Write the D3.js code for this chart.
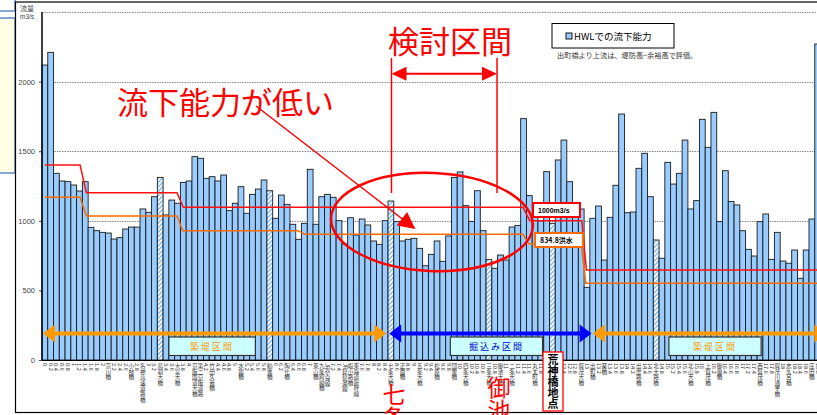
<!DOCTYPE html>
<html><head><meta charset="utf-8">
<script src="https://cdn.jsdelivr.net/npm/d3@7"></script>
<style>
html,body{margin:0;padding:0;background:#fff;overflow:hidden}
svg{display:block}
</style></head><body>
<svg id="c" width="817" height="415"></svg>
<script>
// ---- data ----
const capacity = [
 2119,2210,1341,1286,1281,1257,1214,1281,953,929,
 917,912,869,879,941,955,955,1085,1061,1173,
 1312,1042,1149,1126,1276,1286,1461,1449,1305,1317,
 1286,1329,1073,1126,1245,1054,1190,1228,1293,1216,
 1018,1185,1118,975,867,982,1370,975,1173,1190,
 1169,1001,833,1022,898,1013,970,855,831,1001,
 1142,994,855,867,874,802,677,759,855,709,
 891,1312,1351,1109,996,1216,929,721,659,754,
 718,955,967,1734,1181,1040,1000,1353,982,1437,
 1580,1281,1085,1085,522,1018,1106,718,1025,1255,
 1767,1058,1063,1377,1485,1173,862,731,1420,1264,
 1341,1580,1085,1145,1729,1528,1779,994,1360,1138,
 1114,929,795,747,994,1049,723,917,711,695,
 790,587,790,1013,2270
];
const hatchedBars = [21,40,61,78,89,107];
const sectionLabels = [
 "0","0.2","0.4","0.6","0.8","1","1.2","1.4","1.6","1.8",
 "2","京川橋","2.2","2.4","2.6","小枝橋","2.8","名神高速道路橋","3","3.2",
 "鳥羽大橋","3.4","3.6","大宮大橋","3.8","4","京阪国道大橋","第二京阪道路","4.2","竹田久我橋",
 "4.4","4.6","4.8","5","水鶏橋","5.2","5.4","5.6","5.8","勧進橋",
 "6","6.2","陶化橋","6.4","6.6","6.8","7","東山橋","九条跨線橋","JR奈良線",
 "7.2","7.4","JR琵琶湖線","塩小路橋","東海道新幹線","7.6","7.8","8","8.2","8.4",
 "七条大橋","8.6","正面橋","8.8","9","五条大橋","9.2","9.4","松原橋","9.6",
 "9.8","団栗橋","10","四条大橋","10.2","10.4","10.6","三条大橋","10.8","御池大橋",
 "11","二条大橋","11.2","11.4","11.6","丸太町橋","11.8","12","荒神橋","12.2",
 "12.4","12.6","12.8","賀茂大橋","13","出町橋","13.2","葵橋","13.4","13.6",
 "13.8","14","14.2","出雲路橋","14.4","14.6","北大路橋","14.8","15","15.2",
 "15.4","15.6","北山大橋","15.8","16","上賀茂橋","16.2","御薗橋","16.4","16.6",
 "16.8","17","17.2","17.4","西賀茂橋","17.6","17.8","賀茂川通学橋","18","志久呂橋",
 "18.2","18.4","18.6","庄田橋","18.8"
];
const yTicks = [0,500,1000,1500,2000,2500];
// planned flow step lines: [bar position, m3/s]
const redPlan = [[0.5,1401],[6.6,1401],[7.7,1202],[23.4,1202],[24.5,1097],[83.4,1097],[84.6,1000],[93.6,1000],[94.4,647],[137,647]];
const orangePlan = [[0.5,1169],[6.6,1169],[7.7,1034],[23.4,1034],[24.4,929],[44.4,929],[45.6,903],[83.4,903],[84.4,834.8],[93.5,834.8],[94.3,551],[137,551]];
// sections [from bar pos, to bar pos]
const sections = [
 {from:0.17,to:59.7,color:"#FF9900",label:"築堤区間",lx:[22,37],tc:"#FF9900"},
 {from:60.2,to:95.3,color:"#0000FF",label:"掘込み区間",lx:[70.8,86.8],tc:"#0000CC"},
 {from:95.5,to:136.0,color:"#FF9900",label:"築堤区間",lx:[108.7,124.7],tc:"#FF9900"}
];
const studyRange = [60.6,78.9];

// ---- layout ----
const svg = d3.select("#c");
const step = 5.767, left = 42;
const n = capacity.length;
const ids = capacity.map((d,i)=>i+1);
const x = d3.scaleBand().domain(ids).range([left, left+n*step]).padding(0);
const xp = d3.scaleLinear().domain([0,n]).range([left, left+n*step]);
const y = d3.scaleLinear().domain([0,2500]).range([360,12]);

const defs = svg.append("defs");
const pat = defs.append("pattern").attr("id","hatch").attr("patternUnits","userSpaceOnUse")
  .attr("width",3.2).attr("height",3.2).attr("patternTransform","rotate(45)");
pat.append("rect").attr("width",3.2).attr("height",3.2).attr("fill","#fff");
pat.append("line").attr("x1",0.8).attr("y1",0).attr("x2",0.8).attr("y2",3.2).attr("stroke","#8EC3F5").attr("stroke-width",1.7);
defs.append("marker").attr("id","ah").attr("viewBox","0 0 10 10").attr("refX",9).attr("refY",5)
  .attr("markerUnits","userSpaceOnUse").attr("markerWidth",20).attr("markerHeight",17).attr("orient","auto")
  .append("path").attr("d","M0,0L10,5L0,10Z").attr("fill","#FF0000");

// left side panels (cut off)
svg.append("rect").attr("x",-3).attr("y",-3).attr("width",18).attr("height",14).attr("fill","#fff").attr("stroke","#5B8BC9").attr("stroke-width",1.5);
svg.append("rect").attr("x",-3).attr("y",18).attr("width",18).attr("height",155).attr("fill","#FFFFE3").attr("stroke","#5B8BC9").attr("stroke-width",1.5);

// frame
svg.append("rect").attr("x",15.5).attr("y",2).attr("width",830).attr("height",410.5).attr("fill","none").attr("stroke","#000").attr("stroke-width",1.2);

// gridlines
svg.append("g").selectAll("line").data(yTicks.filter(d=>d>0)).join("line")
  .attr("x1",left).attr("x2",830).attr("y1",d=>Math.round(y(d))+0.5).attr("y2",d=>Math.round(y(d))+0.5)
  .attr("stroke","#8a8a8a").attr("stroke-width",1).attr("stroke-dasharray","1.5,1");

const line = d3.line().x(d=>xp(d[0])).y(d=>y(d[1]));

// bars
svg.append("g").selectAll("rect").data(capacity).join("rect")
  .attr("x",(d,i)=>x(i+1)).attr("width",x.bandwidth())
  .attr("y",d=>y(d)).attr("height",d=>y(0)-y(d))
  .attr("fill",(d,i)=>hatchedBars.includes(i+1)?"url(#hatch)":"#99CCFF")
  .attr("stroke","#1a1a1a").attr("stroke-width",0.9);

svg.append("path").datum(redPlan).attr("d",line).attr("fill","none").attr("stroke","#FF1010").attr("stroke-width",1.5);
svg.append("path").datum(orangePlan).attr("d",line).attr("fill","none").attr("stroke","#FF6A00").attr("stroke-width",1.5);

// axes
const yAxis = d3.axisLeft(y).tickValues(yTicks.filter(d=>d<2500)).tickSize(3).tickFormat(d3.format("d"));
const ga = svg.append("g").attr("transform",`translate(${left},0)`).call(yAxis);
ga.select(".domain").remove();
ga.selectAll(".tick line").attr("stroke","#444");
ga.selectAll(".tick text").attr("x",-7).attr("font-family","Liberation Sans, Arial, sans-serif").attr("font-size",7.5).attr("fill","#444");
svg.append("line").attr("x1",left).attr("x2",left).attr("y1",y(2500)).attr("y2",y(0)).attr("stroke","#000").attr("stroke-width",1.5);
svg.append("line").attr("x1",left).attr("x2",830).attr("y1",y(0)+0.5).attr("y2",y(0)+0.5).attr("stroke","#000").attr("stroke-width",1.2);
svg.append("text").attr("x",20).attr("y",11).attr("font-family","Noto Sans CJK JP").attr("font-size",7).attr("fill","#444").text("流量");
svg.append("text").attr("x",20).attr("y",19).attr("font-family","Liberation Sans, Arial").attr("font-size",6.5).attr("fill","#444").text("m3/s");

// x labels (vertical)
svg.append("g").selectAll("text").data(sectionLabels).join("text")
  .attr("x",(d,i)=>x(i+1)+x.bandwidth()/2).attr("y",363)
  .attr("font-family","Noto Sans CJK JP").attr("font-size",5.6).attr("fill","#333")
  .style("writing-mode","vertical-rl").style("text-orientation","mixed")
  .text(d=>d);

// section arrows
const AY = 333.5;
sections.forEach(s=>{
  const x1 = xp(s.from), x2 = xp(s.to);
  svg.append("line").attr("x1",x1+8).attr("x2",x2-8).attr("y1",AY).attr("y2",AY).attr("stroke",s.color).attr("stroke-width",4);
  svg.append("path").attr("d",`M${x1},${AY}L${x1+12},${AY-9}L${x1+12},${AY+9}Z`).attr("fill",s.color);
  svg.append("path").attr("d",`M${x2},${AY}L${x2-12},${AY-9}L${x2-12},${AY+9}Z`).attr("fill",s.color);
  const bx1 = xp(s.lx[0]), bx2 = xp(s.lx[1]);
  svg.append("rect").attr("x",bx1).attr("y",337).attr("width",bx2-bx1).attr("height",18.5).attr("fill","#CCFFFF").attr("stroke","#333").attr("stroke-width",1.2);
  svg.append("text").attr("x",(bx1+bx2)/2).attr("y",350).attr("text-anchor","middle").attr("font-family","Noto Sans CJK JP")
    .attr("font-size",9).attr("letter-spacing",2).attr("fill",s.tc).text(s.label);
});

// 荒神橋地点 box
svg.append("rect").attr("x",543).attr("y",352).attr("width",20).attr("height",59).attr("fill","#fff").attr("stroke","#FF0000").attr("stroke-width",1.3);
svg.append("text").attr("x",553).attr("y",354).attr("font-family","Noto Sans CJK JP").attr("font-weight","bold").attr("font-size",11)
  .style("writing-mode","vertical-rl").attr("fill","#000").text("荒神橋地点");

// big red vertical labels at bottom (cut off by the picture edge, as in the original)
[["七条",394,383],["御池",499,376]].forEach(t=>{
  svg.append("text").attr("x",t[1]).attr("y",t[2]).attr("font-family","Noto Sans CJK JP")
    .attr("font-size",23).attr("fill","#FF0000").style("writing-mode","vertical-rl").text(t[0]);
});

// plan value boxes
svg.append("rect").attr("x",533).attr("y",203).attr("width",47).attr("height",14).attr("fill","#fff").attr("stroke","#FF0000").attr("stroke-width",2);
svg.append("text").attr("x",538).attr("y",213).attr("font-family","Liberation Sans, Arial").attr("font-weight","bold").attr("font-size",7).attr("fill","#000").text("1000m3/s");
svg.append("rect").attr("x",535).attr("y",233).attr("width",48).attr("height",14).attr("fill","#fff").attr("stroke","#FF6A00").attr("stroke-width",2);
svg.append("text").attr("x",540).attr("y",243).attr("font-family","Noto Sans CJK JP").attr("font-weight","bold").attr("font-size",7).attr("fill","#000").text("834.8洪水");

// ellipse
svg.append("ellipse").attr("cx",432).attr("cy",222).attr("rx",101).attr("ry",49)
  .attr("transform","rotate(2.3,432,222)").attr("fill","none").attr("stroke","#FF0000").attr("stroke-width",2.5);

// 流下能力が低い
svg.append("text").attr("x",117).attr("y",114).attr("font-family","Noto Sans CJK JP").attr("font-size",31).attr("fill","#FF0000").text("流下能力が低い");
svg.append("line").attr("x1",256).attr("y1",106).attr("x2",414).attr("y2",228).attr("stroke","#FF0000").attr("stroke-width",1.5).attr("marker-end","url(#ah)");

// 検討区間
const sx1 = xp(studyRange[0]), sx2 = xp(studyRange[1]);
svg.append("text").attr("x",388).attr("y",53).attr("font-family","Noto Sans CJK JP").attr("font-size",31).attr("fill","#FF0000").text("検討区間");
[sx1,sx2].forEach(v=>svg.append("line").attr("x1",v).attr("x2",v).attr("y1",58).attr("y2",193).attr("stroke","#FF0000").attr("stroke-width",1.5));
svg.append("line").attr("x1",sx1+10).attr("x2",sx2-10).attr("y1",73.7).attr("y2",73.7).attr("stroke","#FF0000").attr("stroke-width",2);
svg.append("path").attr("d",`M${sx1},73.7L${sx1+15},66.7L${sx1+15},80.7Z`).attr("fill","#FF0000");
svg.append("path").attr("d",`M${sx2},73.7L${sx2-15},66.7L${sx2-15},80.7Z`).attr("fill","#FF0000");

// legend
svg.append("rect").attr("x",552).attr("y",23.5).attr("width",122).attr("height",24.5).attr("fill","#fff").attr("stroke","#000").attr("stroke-width",1);
svg.append("rect").attr("x",566).attr("y",33).attr("width",6).attr("height",6).attr("fill","#99CCFF").attr("stroke","#000").attr("stroke-width",0.9);
svg.append("text").attr("x",574).attr("y",40).attr("font-family","Noto Sans CJK JP").attr("font-size",9.5).attr("fill","#000").text("HWLでの流下能力");
svg.append("text").attr("x",557).attr("y",58).attr("font-family","Noto Sans CJK JP").attr("font-size",7.2).attr("fill","#333").text("出町橋より上流は、堤防高−余裕高で評価。");
</script>
</body></html>
